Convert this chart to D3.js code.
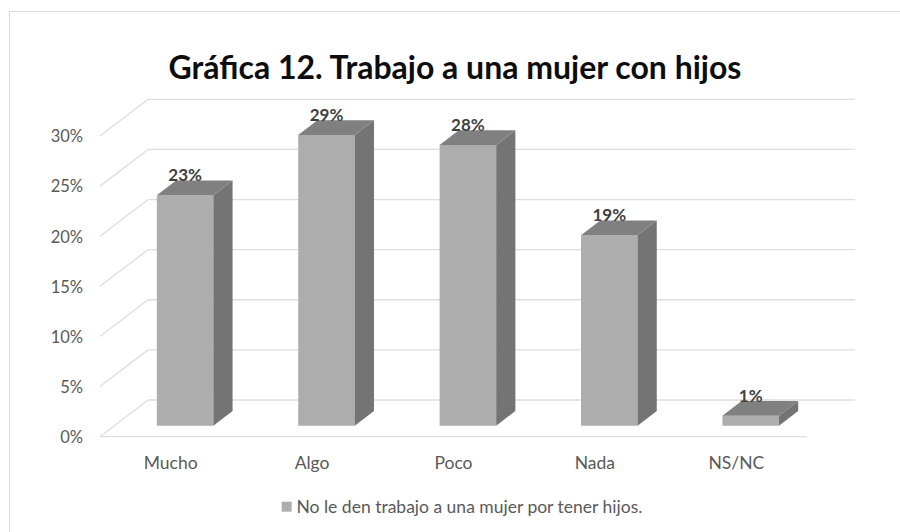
<!DOCTYPE html>
<html>
<head>
<meta charset="utf-8">
<script src="https://cdn.jsdelivr.net/npm/d3@7"></script>
<style>
  html, body { margin: 0; padding: 0; background: #fff; }
  svg { display: block; }
  text { font-family: Lato, "Open Sans", sans-serif; }
</style>
</head>
<body>
<svg id="chart" width="900" height="532"></svg>
<script>
// Chart data
const title = "Gráfica 12. Trabajo a una mujer con hijos";
const categories = ["Mucho", "Algo", "Poco", "Nada", "NS/NC"];
const values = [23, 29, 28, 19, 1];
const yTicks = [0, 5, 10, 15, 20, 25, 30];
const seriesName = "No le den trabajo a una mujer por tener hijos.";

// Layout of the 3D box (oblique projection)
const W = 900, H = 532;
const floorLeft = 100, floorRight = 807, floorFrontY = 436.7;
const depthDX = 48, depthDY = -36.7;   // offset from front edge to back wall
const plotH = 300.7;                   // height of 30% along the vertical
const barF0 = 0.3, barF1 = 0.7;        // bar depth span as a fraction of the box depth

const svg = d3.select("#chart");

const x = d3.scaleBand()
  .domain(categories)
  .range([floorLeft, floorRight])
  .paddingInner(0.6)
  .paddingOuter(0.3);

const y = d3.scaleLinear().domain([0, 30]).range([0, plotH]);

// project (screen x at front, value, depth fraction) -> screen point
function proj(px, v, f) {
  return [px + f * depthDX, floorFrontY + f * depthDY - y(v)];
}

// Outer frame
svg.append("rect")
  .attr("x", 9.5).attr("y", 11.5)
  .attr("width", W).attr("height", H)
  .attr("fill", "#fff")
  .attr("stroke", "#d9d9d9")
  .attr("stroke-width", 1);

// Title
svg.append("text")
  .attr("x", 455).attr("y", 79)
  .attr("text-anchor", "middle")
  .attr("font-weight", 700)
  .attr("font-size", 32)
  .attr("fill", "#0d0d0d")
  .text(title);

const grid = svg.append("g")
  .attr("stroke", "#dedede")
  .attr("stroke-width", 1.3)
  .attr("fill", "none");

// Back-wall gridlines and left-wall diagonals
yTicks.forEach(t => {
  const back0 = proj(floorLeft, t, 1);
  const back1 = proj(floorRight, t, 1);
  grid.append("line")
    .attr("x1", back0[0]).attr("y1", back0[1])
    .attr("x2", back1[0]).attr("y2", back1[1]);
  const front = proj(floorLeft, t, 0);
  grid.append("line")
    .attr("x1", front[0]).attr("y1", front[1])
    .attr("x2", back0[0]).attr("y2", back0[1]);
});
// Front edge of the floor
const fl0 = proj(floorLeft, 0, 0), fl1 = proj(floorRight, 0, 0);
grid.append("line")
  .attr("x1", fl0[0]).attr("y1", fl0[1])
  .attr("x2", fl1[0]).attr("y2", fl1[1]);

// Y axis labels
svg.append("g")
  .selectAll("text")
  .data(yTicks)
  .join("text")
  .attr("x", 83)
  .attr("y", d => proj(floorLeft, d, 0)[1])
  .attr("dy", "0.38em")
  .attr("text-anchor", "end")
  .attr("font-size", 16.5)
  .attr("fill", "#595959")
  .text(d => d + "%");

// Bars
const bars = svg.append("g")
  .selectAll("g")
  .data(categories.map((c, i) => ({ c, v: values[i] })))
  .join("g");

const poly = pts => "M" + pts.map(p => p.join(",")).join("L") + "Z";

bars.each(function (d) {
  const g = d3.select(this);
  const x0 = x(d.c), x1 = x0 + x.bandwidth();
  // front face
  g.append("path")
    .attr("d", poly([proj(x0, 0, barF0), proj(x1, 0, barF0), proj(x1, d.v, barF0), proj(x0, d.v, barF0)]))
    .attr("fill", "#adadad");
  // right side face
  g.append("path")
    .attr("d", poly([proj(x1, 0, barF0), proj(x1, 0, barF1), proj(x1, d.v, barF1), proj(x1, d.v, barF0)]))
    .attr("fill", "#747474");
  // top face
  g.append("path")
    .attr("d", poly([proj(x0, d.v, barF0), proj(x1, d.v, barF0), proj(x1, d.v, barF1), proj(x0, d.v, barF1)]))
    .attr("fill", "#808080");
  // value label
  const top = proj((x0 + x1) / 2, d.v, barF0);
  g.append("text")
    .attr("x", top[0])
    .attr("y", top[1] - 14)
    .attr("text-anchor", "middle")
    .attr("font-weight", 700)
    .attr("font-size", 17)
    .attr("fill", "#404040")
    .text(d.v + "%");
});

// Category labels
svg.append("g")
  .selectAll("text")
  .data(categories)
  .join("text")
  .attr("x", d => x(d) + x.bandwidth() / 2)
  .attr("y", 468.5)
  .attr("text-anchor", "middle")
  .attr("font-size", 17.5)
  .attr("fill", "#595959")
  .text(d => d);

// Legend
const legend = svg.append("g");
legend.append("rect")
  .attr("x", 281.7).attr("y", 501.7)
  .attr("width", 10).attr("height", 10)
  .attr("fill", "#adadad");
legend.append("text")
  .attr("x", 296.5).attr("y", 513)
  .attr("font-size", 17.5)
  .attr("fill", "#595959")
  .text(seriesName);
</script>
</body>
</html>
